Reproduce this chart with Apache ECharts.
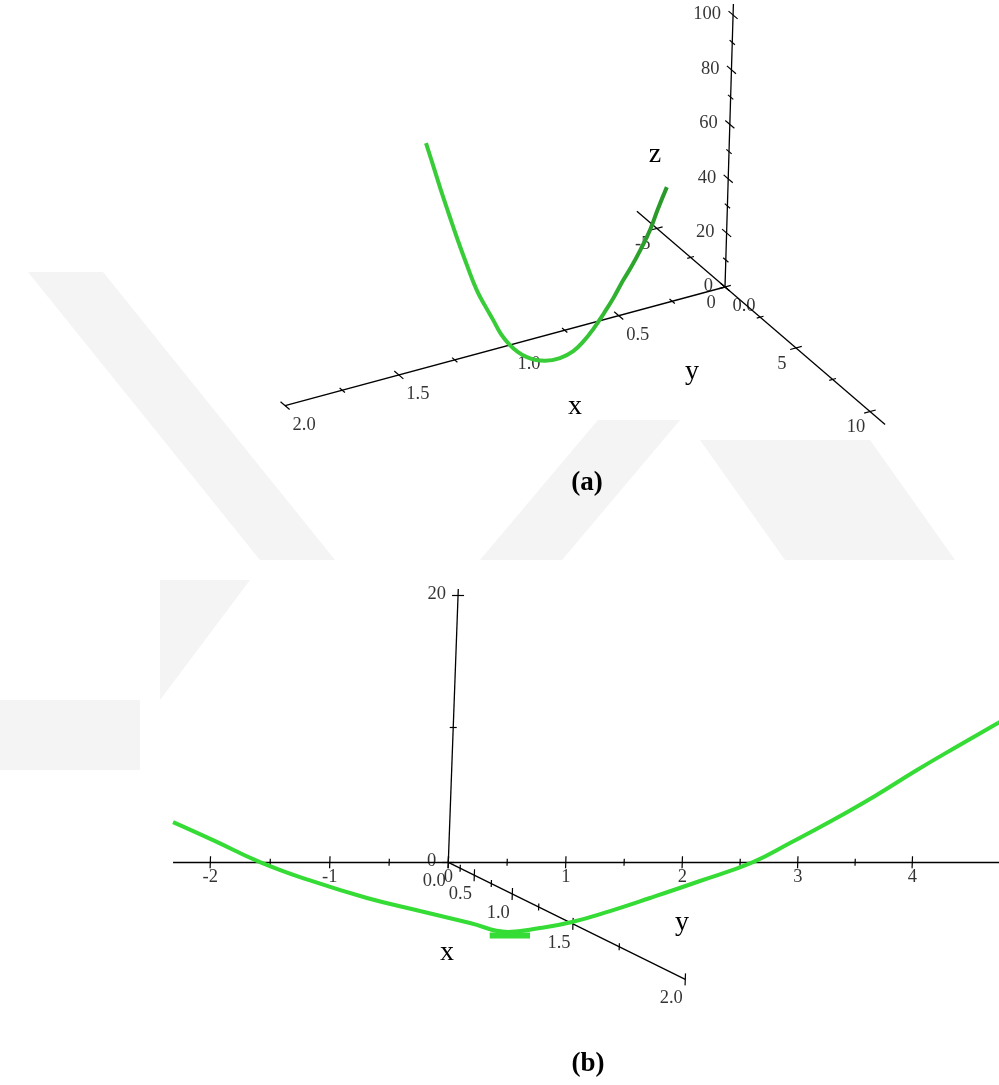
<!DOCTYPE html>
<html>
<head>
<meta charset="utf-8">
<script src="https://cdn.jsdelivr.net/npm/echarts@6/dist/echarts.min.js"></script>
<style>
html,body{margin:0;padding:0;background:#ffffff;}
#c{width:999px;height:1085px;}
</style>
</head>
<body>
<div id="c"></div>
<script>
// ---- Panel (a): space curve lying in the plane y = 2 ----
const curveA_y = 2;
const curveA_x = [1.538,1.504,1.465,1.426,1.386,1.338,1.290,1.250,1.212,1.174,1.132,1.094,1.053,1.011,0.969,0.901,0.842,0.793,0.748,0.703,0.659,0.620,0.580,0.540,0.500,0.466,0.427];
const curveA_z = [95.0,86.3,76.2,66.6,56.9,45.9,35.6,28.9,22.9,16.8,11.8,8.4,5.6,3.6,2.4,1.9,3.1,5.9,9.7,14.3,19.3,24.4,29.1,34.5,40.6,47.6,54.8];

// ---- Panel (b): space curve lying in the plane x = 1.5 ----
const curveB_x = 1.5;
const curveB_y = [-3.372,-3.037,-2.642,-2.221,-1.741,-1.293,-0.870,-0.547,-0.278,-0.009,0.310,0.647,1.068,1.517,1.829,2.192,2.548,2.904,3.253,3.595,3.697];
const curveB_z = [7.52,6.18,4.55,3.19,1.90,0.94,0.07,-0.59,-0.30,0.14,0.94,1.90,3.15,4.55,5.96,7.67,9.47,11.42,13.23,14.97,15.50];
// short end piece of the curve seen edge-on
const tailB_y = [-0.70,-0.36];
const tailB_z = [-0.85,-0.85];

// ---- Tick values ----
const ticksA_x = [0, 0.5, 1.0, 1.5, 2.0];
const minorA_x = [0.25, 0.75, 1.25, 1.75];
const ticksA_y = [-5, 0, 5, 10];
const minorA_y = [-2.5, 2.5, 7.5];
const ticksA_z = [0, 20, 40, 60, 80, 100];
const minorA_z = [10, 30, 50, 70, 90];

const ticksB_x = [0, 0.5, 1.0, 1.5, 2.0];
const minorB_x = [0.25, 0.75, 1.25, 1.75];
const ticksB_y = [-2, -1, 0, 1, 2, 3, 4];
const minorB_y = [-1.5, -0.5, 0.5, 1.5, 2.5, 3.5];
const ticksB_z = [0, 20];
const minorB_z = [10];

// ---- Camera models: screen = origin + sum(e * c / (1 + k * c)) ----
const viewA = {
  o: [725, 287],
  x: { e: [-210.2, 56.7], k: -0.0222 },
  y: { e: [13.91, 11.95], k: -0.00403 },
  z: { e: [0.08, -2.695], k: -0.0000917 }
};
const viewB = {
  o: [448.3, 862.3],
  x: { e: [43.84, 21.66], k: -0.315 },
  y: { e: [117.98, 0], k: 0.00427 },
  z: { e: [0.5, -13.67], k: 0.00125 }
};

function project(v, p) {
  let sx = v.o[0], sy = v.o[1];
  ['x', 'y', 'z'].forEach(function (a, i) {
    const c = p[i];
    const d = 1 + v[a].k * c;
    sx += v[a].e[0] * c / d;
    sy += v[a].e[1] * c / d;
  });
  return [sx, sy];
}
function onAxis(axis, val) {
  const p = [0, 0, 0];
  p['xyz'.indexOf(axis)] = val;
  return p;
}
function unitDir(v, a) {
  const e = v[a].e, n = Math.hypot(e[0], e[1]);
  return [e[0] / n, e[1] / n];
}

const SERIF = '"Liberation Serif", "Times New Roman", serif';
const GREEN_B = '#35dc35';

const panels = [
  {
    view: viewA,
    range: { x: [0, 2], y: [-6.5, 11], z: [0, 104] },
    major: { x: ticksA_x, y: ticksA_y, z: ticksA_z },
    minor: { x: minorA_x, y: minorA_y, z: minorA_z },
    tickDir: { x: 'y', y: 'x', z: 'y' },
    tickLen: { major: 6, minor: 3.5 },
    labelOff: { x: [19, 19], y: [-14, 16], z: [-12, -1] },
    labelAlign: { x: 'center', y: 'center', z: 'right' },
    fmt: { x: function (v) { return v.toFixed(1); }, y: String, z: String }
  },
  {
    view: viewB,
    range: { x: [0, 2], y: [-2.31, 4.8], z: [0, 20.5] },
    major: { x: ticksB_x, y: ticksB_y, z: ticksB_z },
    minor: { x: minorB_x, y: minorB_y, z: minorB_z },
    tickDir: { x: 'z', y: 'z', z: 'y' },
    tickLen: { major: 6, minor: 3.5 },
    labelOff: { x: [-14, 19], y: [0, 15], z: [-12, -1] },
    labelAlign: { x: 'center', y: 'center', z: 'right' },
    fmt: { x: function (v) { return v.toFixed(1); }, y: String, z: String }
  }
];

const axisSegs = [];
const tickSegs = [];
const labelData = [];

panels.forEach(function (P) {
  ['x', 'y', 'z'].forEach(function (a) {
    axisSegs.push({ coords: [project(P.view, onAxis(a, P.range[a][0])), project(P.view, onAxis(a, P.range[a][1]))] });
    const d = unitDir(P.view, P.tickDir[a]);
    [['major', P.major[a]], ['minor', P.minor[a]]].forEach(function (grp) {
      const half = P.tickLen[grp[0]];
      grp[1].forEach(function (val) {
        const c = project(P.view, onAxis(a, val));
        tickSegs.push({ coords: [[c[0] - d[0] * half, c[1] - d[1] * half], [c[0] + d[0] * half, c[1] + d[1] * half]] });
      });
    });
    P.major[a].forEach(function (val) {
      const c = project(P.view, onAxis(a, val));
      labelData.push({
        value: [c[0] + P.labelOff[a][0], c[1] + P.labelOff[a][1]],
        label: { formatter: P.fmt[a](val), align: P.labelAlign[a] }
      });
    });
  });
});

const ptsA = curveA_x.map(function (x, i) { return project(viewA, [x, curveA_y, curveA_z[i]]); });
const ptsB = curveB_y.map(function (y, i) { return project(viewB, [curveB_x, y, curveB_z[i]]); });
const ptsTail = tailB_y.map(function (y, i) { return project(viewB, [curveB_x, y, tailB_z[i]]); });

const chart = echarts.init(document.getElementById('c'), null, { renderer: 'canvas' });

const greenA = new echarts.graphic.LinearGradient(575, 0, 650, 0, [
  { offset: 0, color: '#38cc38' },
  { offset: 1, color: '#2a9a2a' }
], true);

// faint background emblem
const emblem = [
  [[28, 272], [103, 272], [335, 560], [260, 560]],
  [[480, 560], [562, 560], [680, 420], [598, 420]],
  [[700, 440], [870, 440], [955, 560], [785, 560]],
  [[160, 580], [250, 580], [160, 700]],
  [[0, 700], [140, 700], [140, 770], [0, 770]]
];

chart.setOption({
  animation: false,
  backgroundColor: '#ffffff',
  grid: { left: 0, right: 0, top: 0, bottom: 0 },
  xAxis: { type: 'value', min: 0, max: 999, show: false },
  yAxis: { type: 'value', min: 0, max: 1085, inverse: true, show: false },
  graphic: emblem.map(function (pts) {
    return { type: 'polygon', z: -10, silent: true, shape: { points: pts }, style: { fill: '#f4f4f4' } };
  }).concat([
    { type: 'text', x: 575, y: 407, style: { text: 'x', font: '28px ' + SERIF, fill: '#000', align: 'center', verticalAlign: 'middle' } },
    { type: 'text', x: 692, y: 372, style: { text: 'y', font: '28px ' + SERIF, fill: '#000', align: 'center', verticalAlign: 'middle' } },
    { type: 'text', x: 655, y: 155, style: { text: 'z', font: '28px ' + SERIF, fill: '#000', align: 'center', verticalAlign: 'middle' } },
    { type: 'text', x: 447, y: 953, style: { text: 'x', font: '28px ' + SERIF, fill: '#000', align: 'center', verticalAlign: 'middle' } },
    { type: 'text', x: 682, y: 923, style: { text: 'y', font: '28px ' + SERIF, fill: '#000', align: 'center', verticalAlign: 'middle' } },
    { type: 'text', x: 587, y: 483, style: { text: '(a)', font: 'bold 27px ' + SERIF, fill: '#000', align: 'center', verticalAlign: 'middle' } },
    { type: 'text', x: 588, y: 1064, style: { text: '(b)', font: 'bold 27px ' + SERIF, fill: '#000', align: 'center', verticalAlign: 'middle' } }
  ]),
  series: [
    {
      type: 'lines', coordinateSystem: 'cartesian2d', silent: true, z: 2,
      lineStyle: { color: '#000', width: 1.3, opacity: 1 },
      data: axisSegs
    },
    {
      type: 'lines', coordinateSystem: 'cartesian2d', silent: true, z: 2,
      lineStyle: { color: '#000', width: 1.2, opacity: 1 },
      data: tickSegs
    },
    {
      type: 'scatter', silent: true, z: 3, symbolSize: 1,
      itemStyle: { color: 'rgba(0,0,0,0)' },
      label: { show: true, position: 'inside', color: '#000', fontFamily: SERIF, fontSize: 18.5, verticalAlign: 'middle' },
      data: labelData
    },
    {
      type: 'line', silent: true, z: 4, smooth: 0.45, showSymbol: false,
      lineStyle: { color: greenA, width: 4 },
      data: ptsA
    },
    {
      type: 'line', silent: true, z: 4, smooth: 0.45, showSymbol: false,
      lineStyle: { color: GREEN_B, width: 4 },
      data: ptsB
    },
    {
      type: 'line', silent: true, z: 4, showSymbol: false,
      lineStyle: { color: GREEN_B, width: 6 },
      data: ptsTail
    }
  ]
});
</script>
</body>
</html>
